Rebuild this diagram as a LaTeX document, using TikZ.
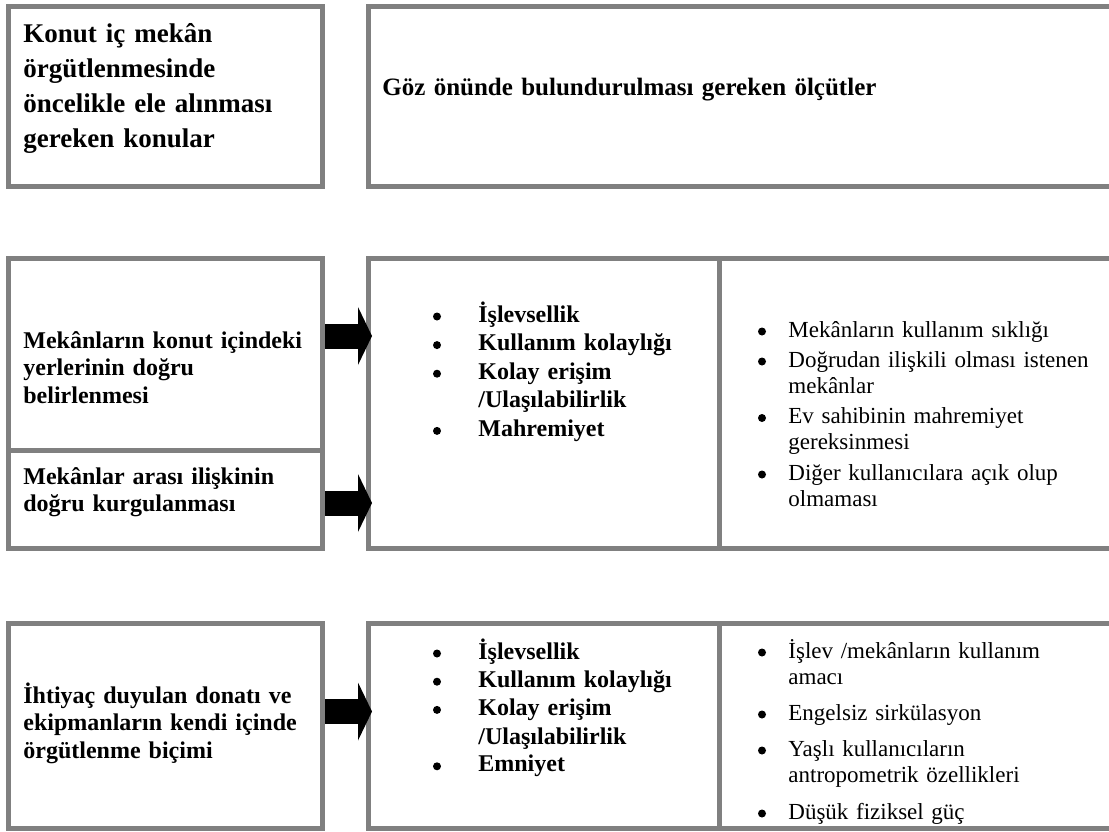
\documentclass[tikz,border=0pt]{standalone}
\usepackage{fontspec}
\setmainfont{Liberation Serif}
\usepackage{tikz}
\usetikzlibrary{
    arrows.meta,
    positioning
}
\tikzset{
    kutu/.style={draw=gray, line width=2.5pt, inner sep=0pt},
    baslik/.style={anchor=base west, inner sep=0pt, text width=150pt, align=left,
        font=\fontsize{13.5}{17.5}\selectfont\bfseries},
    konu/.style={anchor=base west, inner sep=0pt, text width=150pt, align=left,
        font=\fontsize{12}{13.75}\selectfont\bfseries},
    ilke/.style={anchor=base west, inner sep=0pt, text width=120pt, align=left,
        font=\fontsize{12}{14.3}\selectfont\bfseries},
    olcu/.style={anchor=base west, inner sep=0pt, text width=165pt, align=left,
        font=\fontsize{11.5}{13.2}\selectfont},
    nokta/.style={circle, fill, inner sep=0pt, minimum size=4pt},
    blok/.style={line width=12.5pt, -{Triangle[length=7pt, width=29pt, line width=0pt]}}
}

\begin{document}
\begin{tikzpicture}[x=0.5pt, y=-0.5pt]
    \useasboundingbox (0,0) rectangle (1109,831);
    \clip (0,0) rectangle (1109,831);

    \node[kutu, minimum width=157pt, minimum height=90pt] (konut) at (165.5,96.5) {};
    \node[kutu, minimum width=378.25pt, minimum height=90pt] (olcut) at (746.75,96.5) {};

    \node[kutu, minimum width=157pt, minimum height=96pt] (yer) at (165.5,354.5) {};
    \node[kutu, minimum width=157pt, minimum height=48.75pt] (iliski) at (165.5,499.25) {};
    \node[kutu, minimum width=175.5pt, minimum height=144.75pt] (ilkeA) at (544,403.25) {};
    \node[kutu, minimum width=202.75pt, minimum height=144.75pt] (olcutA) at (922.25,403.25) {};

    \node[kutu, minimum width=157pt, minimum height=102.25pt] (donati) at (165.5,725.75) {};
    \node[kutu, minimum width=175.5pt, minimum height=102.25pt] (ilkeB) at (544,725.75) {};
    \node[kutu, minimum width=202.75pt, minimum height=102.25pt] (olcutB) at (922.25,725.75) {};

    \node[baslik] (konutyazi) at (23,42) {Konut iç mekân\\örgütlenmesinde\\öncelikle ele alınması\\gereken konular};
    \node[baslik, text width=350pt, font=\fontsize{12.5}{15}\selectfont\bfseries] (olcutyazi) at (382,95) {Göz önünde bulundurulması gereken ölçütler};

    \node[konu] (yeryazi) at (23,348) {Mekânların konut içindeki\\yerlerinin doğru\\belirlenmesi};
    \node[konu] (iliskiyazi) at (23,484) {Mekânlar arası ilişkinin\\doğru kurgulanması};
    \node[konu] (donatiyazi) at (23,703) {İhtiyaç duyulan donatı ve\\ekipmanların kendi içinde\\örgütlenme biçimi};

    \foreach \yy/\txt [count=\i] in {322/İşlevsellik, 350.6/Kullanım kolaylığı, 379.2/{Kolay erişim\\/Ulaşılabilirlik}, 436.4/Mahremiyet} {
        \node[nokta] (ma\i) at (437,\yy-5.5) {};
        \node[ilke] (ia\i) at (478,\yy) {\txt};
    }
    \foreach \yy/\txt [count=\i] in {659/İşlevsellik, 687.2/Kullanım kolaylığı, 715.4/{Kolay erişim\\/Ulaşılabilirlik}, 771.8/Emniyet} {
        \node[nokta] (mb\i) at (437,\yy-5.5) {};
        \node[ilke] (ib\i) at (478,\yy) {\txt};
    }

    \foreach \yy/\txt [count=\i] in {337/Mekânların kullanım sıklığı, 367/{Doğrudan ilişkili olması istenen\\mekânlar}, 423.5/{Ev sahibinin mahremiyet\\gereksinmesi}, 480/{Diğer kullanıcılara açık olup\\olmaması}} {
        \node[nokta] (ra\i) at (762,\yy-5.5) {};
        \node[olcu] (oa\i) at (788,\yy) {\txt};
    }
    \foreach \yy/\txt [count=\i] in {658/{İşlev /mekânların kullanım\\amacı}, 720/Engelsiz sirkülasyon, 756/{Yaşlı kullanıcıların\\antropometrik özellikleri}, 819/Düşük fiziksel güç} {
        \node[nokta] (rb\i) at (762,\yy-5.5) {};
        \node[olcu] (ob\i) at (788,\yy) {\txt};
    }

    \coordinate (pilA) at (372,336);
    \coordinate (pilB) at (372,503);
    \coordinate (pilC) at (372,711.5);
    \draw[blok] (yer.east |- pilA) -- (pilA);
    \draw[blok] (iliski.east |- pilB) -- (pilB);
    \draw[blok] (donati.east |- pilC) -- (pilC);
\end{tikzpicture}
\end{document}
